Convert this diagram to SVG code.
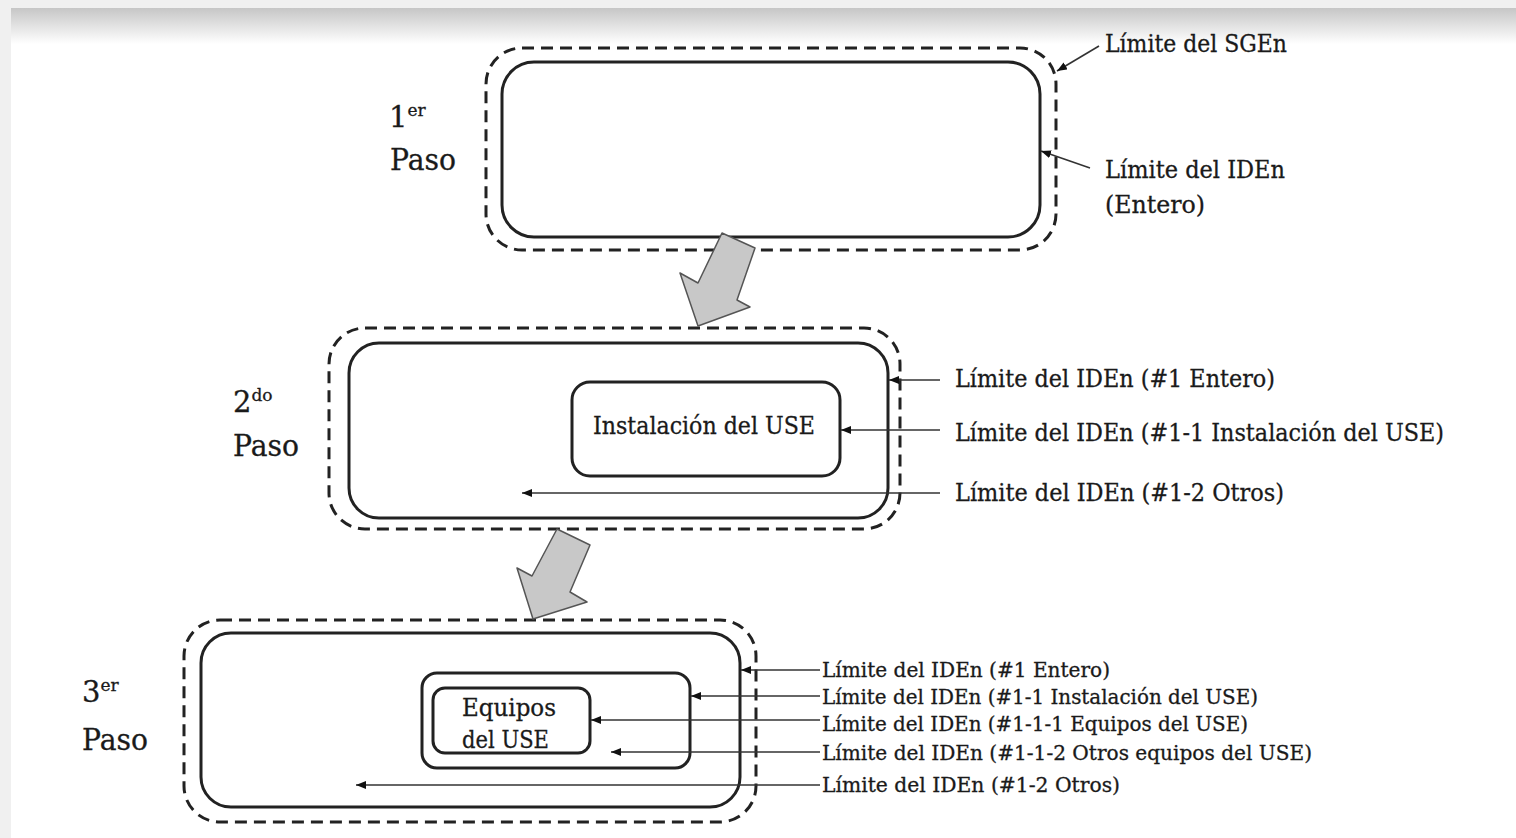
<svg xmlns="http://www.w3.org/2000/svg" width="1516" height="838" viewBox="0 0 1516 838">
<defs>
<linearGradient id="topfade" x1="0" y1="0" x2="0" y2="1">
<stop offset="0" stop-color="#c6c6c6"/>
<stop offset="1" stop-color="#ffffff"/>
</linearGradient>
<marker id="ah" viewBox="0 0 10 8" refX="10" refY="4" markerWidth="10" markerHeight="8" markerUnits="userSpaceOnUse" orient="auto">
<path d="M0,0 L10,4 L0,8 z" fill="#111"/>
</marker>
<style>
.dash{fill:none;stroke:#222;stroke-width:3;stroke-dasharray:12 7}
.solid{fill:none;stroke:#222;stroke-width:3}
.inner{fill:#fff;stroke:#222;stroke-width:3}
.conn{stroke:#333;stroke-width:1.6;fill:none;marker-end:url(#ah)}
.big{stroke:#555;stroke-width:1.5;fill:#c8c8c8;stroke-linejoin:round}
text{font-family:"DejaVu Serif","Liberation Serif",serif;fill:#1a1a1a;stroke:#1a1a1a;stroke-width:0.3}
.step{font-size:29px}
.sup{font-size:17px}
.lbl{font-size:24px}
.lbl3{font-size:20px}
</style>
</defs>
<rect x="0" y="0" width="1516" height="838" fill="#f0f0f0"/>
<rect x="11" y="8" width="1505" height="830" fill="#ffffff"/>
<rect x="11" y="8" width="1505" height="36" fill="url(#topfade)"/>

<g id="step1">
<rect class="dash" x="486" y="48" width="570" height="202" rx="36"/>
<rect class="solid" x="502" y="62" width="538" height="175" rx="32"/>
<text class="step" x="389" y="127">1<tspan class="sup" dy="-11">er</tspan></text>
<text class="step" x="390" y="170" textLength="66" lengthAdjust="spacingAndGlyphs">Paso</text>
<text class="lbl" x="1105" y="52" textLength="182" lengthAdjust="spacingAndGlyphs">Límite del SGEn</text>
<text class="lbl" x="1105" y="178" textLength="180" lengthAdjust="spacingAndGlyphs">Límite del IDEn</text>
<text class="lbl" x="1105" y="213" textLength="100" lengthAdjust="spacingAndGlyphs">(Entero)</text>
</g>

<g id="step2">
<rect class="dash" x="329" y="328" width="571" height="201" rx="36"/>
<rect class="solid" x="349" y="343" width="539" height="175" rx="30"/>
<rect id="inst2" class="inner" x="572" y="382" width="268" height="94" rx="18"/>
<text class="lbl" x="593" y="434" textLength="222" lengthAdjust="spacingAndGlyphs">Instalación del USE</text>
<text class="step" x="233" y="412">2<tspan class="sup" dy="-11">do</tspan></text>
<text class="step" x="233" y="456" textLength="66" lengthAdjust="spacingAndGlyphs">Paso</text>
<text class="lbl" x="955" y="387" textLength="320" lengthAdjust="spacingAndGlyphs">Límite del IDEn (#1 Entero)</text>
<text class="lbl" x="955" y="441" textLength="489" lengthAdjust="spacingAndGlyphs">Límite del IDEn (#1-1 Instalación del USE)</text>
<text class="lbl" x="955" y="501" textLength="329" lengthAdjust="spacingAndGlyphs">Límite del IDEn (#1-2 Otros)</text>
</g>

<g id="step3">
<rect class="dash" x="184" y="620" width="572" height="202" rx="36"/>
<rect class="solid" x="201" y="633" width="539" height="174" rx="30"/>
<rect id="inst3" class="inner" x="422" y="673" width="268" height="95" rx="15"/>
<rect id="equipos" class="inner" x="433" y="688" width="157" height="65" rx="12"/>
<text class="lbl" x="462" y="716" textLength="94" lengthAdjust="spacingAndGlyphs">Equipos</text>
<text class="lbl" x="462" y="748" textLength="87" lengthAdjust="spacingAndGlyphs">del USE</text>
<text class="step" x="82" y="702">3<tspan class="sup" dy="-11">er</tspan></text>
<text class="step" x="82" y="750" textLength="66" lengthAdjust="spacingAndGlyphs">Paso</text>
<text class="lbl3" x="822" y="677" textLength="288" lengthAdjust="spacingAndGlyphs">Límite del IDEn (#1 Entero)</text>
<text class="lbl3" x="822" y="704" textLength="436" lengthAdjust="spacingAndGlyphs">Límite del IDEn (#1-1 Instalación del USE)</text>
<text class="lbl3" x="822" y="731" textLength="426" lengthAdjust="spacingAndGlyphs">Límite del IDEn (#1-1-1 Equipos del USE)</text>
<text class="lbl3" x="822" y="760" textLength="490" lengthAdjust="spacingAndGlyphs">Límite del IDEn (#1-1-2 Otros equipos del USE)</text>
<text class="lbl3" x="822" y="792" textLength="298" lengthAdjust="spacingAndGlyphs">Límite del IDEn (#1-2 Otros)</text>
</g>

<g id="connectors">
<line class="conn" x1="1099" y1="46" x2="1057" y2="71"/>
<line class="conn" x1="1090" y1="168" x2="1041" y2="151"/>
<polygon class="big" points="722,233 755,248 737,300 750,307 698,326 680,273 698,283"/>
<polygon class="big" points="557,529 590,545 570,592 587,602 533,619 517,568 532,576"/>
<line class="conn" x1="940" y1="380" x2="889" y2="380"/>
<line class="conn" x1="940" y1="430" x2="841" y2="430"/>
<line class="conn" x1="940" y1="493" x2="522" y2="493"/>
<line class="conn" x1="820" y1="670" x2="741" y2="670"/>
<line class="conn" x1="820" y1="696" x2="691" y2="696"/>
<line class="conn" x1="820" y1="720" x2="591" y2="720"/>
<line class="conn" x1="820" y1="752" x2="611" y2="752"/>
<line class="conn" x1="820" y1="785" x2="356" y2="785"/>
</g>
</svg>
